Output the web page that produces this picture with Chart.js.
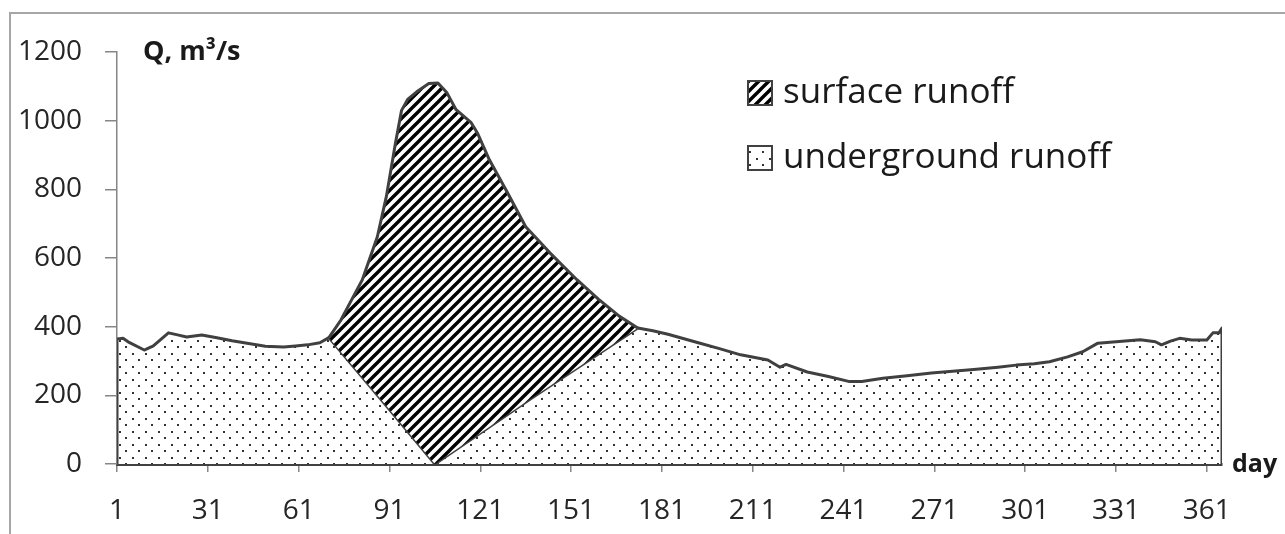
<!DOCTYPE html>
<html>
<head>
<meta charset="utf-8">
<script src="https://cdn.jsdelivr.net/npm/chart.js@4.4.1/dist/chart.umd.min.js"></script>
<style>
  body { margin: 0; background: #fff; }
  #wrap { width: 1285px; height: 534px; }
</style>
</head>
<body>
<div id="wrap"><canvas id="myChart" width="1285" height="534"></canvas></div>
<script>
// daily discharge (day of year, m3/s)
var days = [1, 3, 5, 10, 13, 18, 21, 24, 29, 34, 39, 45, 50, 56, 60, 64, 68, 71,
    75, 78, 82, 87, 90, 93, 95, 97, 100, 104, 107, 110, 113, 118, 120, 124, 130,
    136, 144, 153, 160, 167, 173, 178, 183, 193, 200, 207, 216, 220, 222, 229,
    236, 243, 247, 254, 262, 270, 277, 284, 292, 298, 304, 309, 315, 320, 325,
    331, 335, 339, 344, 346, 349, 352, 356, 361, 363, 365, 366];
var totalQ = [364, 366, 354, 332, 344, 382, 376, 370, 376, 368, 359, 350, 343, 341, 344, 347, 353, 368,
    420, 470, 536, 662, 780, 936, 1030, 1062, 1084, 1108, 1110, 1081, 1032, 994, 965, 886, 790,
    691, 615, 536, 480, 430, 396, 388, 378, 353, 336, 318, 303, 282, 290, 268,
    255, 240, 240, 250, 257, 265, 270, 275, 282, 288, 292, 298, 312, 327, 352,
    356, 359, 362, 356, 347, 358, 366, 361, 361, 382, 382, 396];

// baseflow separation line under the flood wave
var sepDays = [71, 89, 106, 138, 173];
var sepQ = [368, 180, 0, 192, 396];

var floodStart = 71;
var floodEnd = 173;

var xTicks = [1, 31, 61, 91, 121, 151, 181, 211, 241, 271, 301, 331, 361];
var yTicks = [0, 200, 400, 600, 800, 1000, 1200];

var labelSurface = 'surface runoff';
var labelUnder = 'underground runoff';

// ---- patterns ----
function hatchPattern() {
    var c = document.createElement('canvas');
    c.width = 10; c.height = 10;
    var g = c.getContext('2d');
    g.fillStyle = '#fff';
    g.fillRect(0, 0, 10, 10);
    g.strokeStyle = '#000';
    g.lineWidth = 3.4;
    g.beginPath();
    g.moveTo(-5, 5); g.lineTo(5, -5);
    g.moveTo(0, 10); g.lineTo(10, 0);
    g.moveTo(5, 15); g.lineTo(15, 5);
    g.stroke();
    return g.createPattern(c, 'repeat');
}

function dotPattern() {
    var c = document.createElement('canvas');
    c.width = 13; c.height = 13;
    var g = c.getContext('2d');
    g.fillStyle = '#fff';
    g.fillRect(0, 0, 13, 13);
    g.fillStyle = '#333';
    g.fillRect(2, 2, 2, 2);
    g.fillRect(8, 8, 2, 2);
    return g.createPattern(c, 'repeat');
}

// ---- build the two series ----
var surfacePts = [];
var underPts = [{x: 1, y: 0}];
for (var i = 0; i < days.length; i++) {
    if (days[i] >= floodStart && days[i] <= floodEnd) {
        surfacePts.push({x: days[i], y: totalQ[i]});
    }
    if (days[i] <= floodStart || days[i] >= floodEnd) {
        if (days[i] == floodEnd) {
            for (var j = 1; j < sepDays.length - 1; j++) {
                underPts.push({x: sepDays[j], y: sepQ[j]});
            }
        }
        underPts.push({x: days[i], y: totalQ[i]});
    }
}
underPts.push({x: 366, y: 0});

var hatch = hatchPattern();
var dots = dotPattern();

var fontFam = "'Open Sans', 'DejaVu Sans', sans-serif";

// frame, axis titles and legend
var extras = {
    id: 'extras',
    beforeDraw: function(chart) {
        var ctx = chart.ctx;
        ctx.save();
        ctx.fillStyle = '#fff';
        ctx.fillRect(0, 0, chart.width, chart.height);
        ctx.strokeStyle = '#a6a6a6';
        ctx.lineWidth = 2;
        ctx.strokeRect(10, 13, chart.width + 20, chart.height + 20);
        ctx.restore();
    },
    afterDraw: function(chart) {
        var ctx = chart.ctx;
        ctx.save();
        ctx.fillStyle = '#1a1a1a';
        ctx.textBaseline = 'middle';
        ctx.textAlign = 'left';
        ctx.font = 'bold 27px ' + fontFam;
        ctx.fillText('Q, m\u00b3/s', 143, 52);
        ctx.font = 'bold 25px ' + fontFam;
        ctx.fillText('day', 1232, 465);

        var ds = chart.data.datasets;
        for (var k = 0; k < ds.length; k++) {
            var y = 81 + k * 65;
            ctx.fillStyle = ds[k].backgroundColor;
            ctx.fillRect(748, y, 24, 24);
            ctx.strokeStyle = '#404040';
            ctx.lineWidth = 2;
            ctx.strokeRect(748, y, 24, 24);
            ctx.fillStyle = '#1a1a1a';
            ctx.font = '35px ' + fontFam;
            ctx.fillText(ds[k].label, 783, y + 12);
        }
        ctx.restore();
    }
};

var canvas = document.getElementById('myChart').getContext('2d');
var chart = new Chart(canvas, {
    type: 'line',
    data: {
        datasets: [{
            label: labelSurface,
            data: surfacePts,
            borderColor: '#404040',
            borderWidth: 3,
            backgroundColor: hatch,
            fill: '+1',
            pointRadius: 0,
            tension: 0,
            borderJoinStyle: 'round'
        }, {
            label: labelUnder,
            data: underPts,
            borderColor: '#404040',
            borderWidth: 3,
            backgroundColor: dots,
            fill: 'origin',
            pointRadius: 0,
            tension: 0,
            borderJoinStyle: 'round'
        }]
    },
    options: {
        responsive: false,
        animation: false,
        devicePixelRatio: 1,
        layout: { padding: { top: 52, right: 63, left: 0, bottom: 0 } },
        plugins: {
            legend: { display: false },
            tooltip: { enabled: false }
        },
        scales: {
            x: {
                type: 'linear',
                min: 1,
                max: 366,
                afterBuildTicks: function(scale) {
                    scale.ticks = xTicks.map(function(v) { return {value: v}; });
                },
                afterFit: function(scale) { scale.height = 70; },
                grid: {
                    drawOnChartArea: false,
                    drawTicks: true,
                    tickLength: 8,
                    color: '#868686',
                    lineWidth: 1.5
                },
                border: { color: '#404040', width: 3 },
                ticks: {
                    autoSkip: false,
                    maxRotation: 0,
                    padding: 22,
                    color: '#262626',
                    font: { family: fontFam, size: 28 },
                    callback: function(v) { return String(v); }
                }
            },
            y: {
                min: 0,
                max: 1200,
                afterBuildTicks: function(scale) {
                    scale.ticks = yTicks.map(function(v) { return {value: v}; });
                },
                afterFit: function(scale) { scale.width = 117; },
                grid: {
                    drawOnChartArea: false,
                    drawTicks: true,
                    tickLength: 12,
                    color: '#868686',
                    lineWidth: 1.5
                },
                border: { color: '#868686', width: 1.5 },
                ticks: {
                    padding: 23,
                    color: '#262626',
                    font: { family: fontFam, size: 28 },
                    callback: function(v) { return String(v); }
                }
            }
        }
    },
    plugins: [extras]
});
</script>
</body>
</html>
